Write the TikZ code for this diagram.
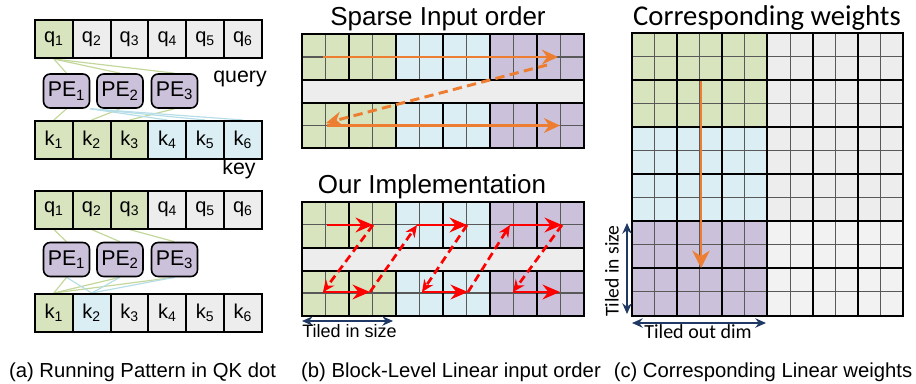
\documentclass[tikz,border=0pt]{standalone}
\usepackage{fontspec}
\setmainfont{Liberation Sans}
\newfontfamily\calfont{Carlito}
\usetikzlibrary{arrows.meta,backgrounds}

\definecolor{cGreen}{RGB}{215,228,189}
\definecolor{cBlue}{RGB}{219,238,244}
\definecolor{cPurple}{RGB}{204,193,218}
\definecolor{cGray}{RGB}{237,237,237}
\definecolor{cGrayL}{RGB}{242,242,242}
\definecolor{cLnGreen}{RGB}{196,215,155}
\definecolor{cLnBlue}{RGB}{183,222,232}
\definecolor{cOrange}{RGB}{237,125,49}
\definecolor{cNavy}{RGB}{31,56,100}

\tikzset{every picture/.style={line width=0.75pt}}
\tikzset{
  tok/.style={draw, line width=1.5pt, minimum width=28.35pt, minimum height=28.5pt, inner sep=0pt, font=\fontsize{15}{15}\selectfont},
  pebox/.style={draw, line width=1.2pt, rounded corners=5pt, fill=cPurple, minimum width=34.5pt, minimum height=25.5pt, inner sep=0pt, font=\fontsize{16}{16}\selectfont},
  thinln/.style={draw=black!65, line width=0.8pt},
  thickln/.style={draw=black, line width=1.5pt},
  orarrow/.style={draw=cOrange, line width=2.2pt, -{Stealth[length=12pt,width=11pt]}},
  rdarrow/.style={draw=red, line width=2.2pt, -{Stealth[length=13pt,width=11pt]}},
  rddash/.style={draw=red, line width=2pt, dash pattern=on 6pt off 3.5pt, -{Stealth[length=9pt,width=8pt]}},
  dimarrow/.style={draw=cNavy, line width=1.5pt, {Stealth[length=8pt,width=7pt]}-{Stealth[length=8pt,width=7pt]}},
  pelink/.style={draw=cLnGreen, line width=0.9pt},
  pelinkb/.style={draw=cLnBlue, line width=0.9pt}
}

\begin{document}
\begin{tikzpicture}[x=0.75pt,y=0.75pt,yscale=-1,xscale=1]
\useasboundingbox (0,0) rectangle (916,383);

% ---- (a) running pattern, upper case
\node [tok, fill=cGreen] (qa1) at (53.9,39) {q\textsubscript{1}};
\node [tok, fill=cGray] (qa2) at (91.7,39) {q\textsubscript{2}};
\node [tok, fill=cGray] (qa3) at (129.5,39) {q\textsubscript{3}};
\node [tok, fill=cGray] (qa4) at (167.3,39) {q\textsubscript{4}};
\node [tok, fill=cGray] (qa5) at (205.1,39) {q\textsubscript{5}};
\node [tok, fill=cGray] (qa6) at (242.9,39) {q\textsubscript{6}};

\node [pebox] (pea1) at (66.5,91) {PE\textsubscript{1}};
\node [pebox] (pea2) at (120,91) {PE\textsubscript{2}};
\node [pebox] (pea3) at (174.5,91) {PE\textsubscript{3}};

\node [tok, fill=cGreen] (ka1) at (53.9,140) {k\textsubscript{1}};
\node [tok, fill=cGreen] (ka2) at (91.7,140) {k\textsubscript{2}};
\node [tok, fill=cGreen] (ka3) at (129.5,140) {k\textsubscript{3}};
\node [tok, fill=cBlue] (ka4) at (167.3,140) {k\textsubscript{4}};
\node [tok, fill=cBlue] (ka5) at (205.1,140) {k\textsubscript{5}};
\node [tok, fill=cBlue] (ka6) at (242.9,140) {k\textsubscript{6}};

% Text Node
\node [anchor=base, font=\fontsize{16}{16}\selectfont] (qry) at (240,82) {query};
% Text Node
\node [anchor=base, font=\fontsize{16}{16}\selectfont] (key) at (239,174) {key};

\begin{scope}[on background layer]
\draw [pelink] (qa1.south) -- (pea1.north);
\draw [pelink] (qa1.south) -- (pea2.north);
\draw [pelink] (qa1.south) -- (pea3.north);
\draw [pelink] (pea1.south) -- (ka1.north);
\draw [pelink] (pea2.south) -- (ka2.north);
\draw [pelink] (pea3.south) -- (ka3.north);
\draw [pelinkb] (pea1.south east) -- (ka4.north);
\draw [pelinkb] (pea1.south east) -- (ka5.north);
\draw [pelinkb] (pea1.south east) -- (ka6.north);
\end{scope}

% ---- (a) running pattern, lower case
\node [tok, fill=cGreen] (qb1) at (53.9,209.5) {q\textsubscript{1}};
\node [tok, fill=cGreen] (qb2) at (91.7,209.5) {q\textsubscript{2}};
\node [tok, fill=cGreen] (qb3) at (129.5,209.5) {q\textsubscript{3}};
\node [tok, fill=cGray] (qb4) at (167.3,209.5) {q\textsubscript{4}};
\node [tok, fill=cGray] (qb5) at (205.1,209.5) {q\textsubscript{5}};
\node [tok, fill=cGray] (qb6) at (242.9,209.5) {q\textsubscript{6}};

\node [pebox] (peb1) at (66.5,259.5) {PE\textsubscript{1}};
\node [pebox] (peb2) at (120,259.5) {PE\textsubscript{2}};
\node [pebox] (peb3) at (174.5,259.5) {PE\textsubscript{3}};

\node [tok, fill=cGreen] (kb1) at (53.9,313) {k\textsubscript{1}};
\node [tok, fill=cBlue] (kb2) at (91.7,313) {k\textsubscript{2}};
\node [tok, fill=cGray] (kb3) at (129.5,313) {k\textsubscript{3}};
\node [tok, fill=cGray] (kb4) at (167.3,313) {k\textsubscript{4}};
\node [tok, fill=cGray] (kb5) at (205.1,313) {k\textsubscript{5}};
\node [tok, fill=cGray] (kb6) at (242.9,313) {k\textsubscript{6}};

\begin{scope}[on background layer]
\draw [pelink] (qb1.south) -- (peb1.north);
\draw [pelink] (qb2.south) -- (peb2.north);
\draw [pelink] (qb3.south) -- (peb3.north);
\draw [pelink] (peb1.south) -- (kb1.north);
\draw [pelink] (peb2.south) -- (kb1.north);
\draw [pelink] (peb3.south) -- (kb1.north);
\draw [pelinkb] (peb1.south) -- (kb2.north);
\draw [pelinkb] (peb2.south) -- (kb2.north);
\draw [pelinkb] (peb3.south) -- (kb2.north);
\end{scope}

% ---- (b) block-level input order, both grids
\foreach \yo in {0,167.5} {
  \foreach \c/\xa in {cGreen/302,cBlue/396,cPurple/490} {
    \fill [\c] (\xa,34+\yo) rectangle ++(94,46);
    \fill [\c] (\xa,103+\yo) rectangle ++(94,45);
  }
  \fill [cGray] (302,80+\yo) rectangle (584,103+\yo);
  \foreach \i in {1,3,...,11} {
    \draw [thinln] ({302+23.5*\i},34+\yo) -- ({302+23.5*\i},80+\yo);
    \draw [thinln] ({302+23.5*\i},103+\yo) -- ({302+23.5*\i},148+\yo);
  }
  \draw [thinln] (302,57+\yo) -- (584,57+\yo);
  \draw [thinln] (302,125.5+\yo) -- (584,125.5+\yo);
  \foreach \i in {2,4,...,10} {
    \draw [thickln] ({302+23.5*\i},34+\yo) -- ({302+23.5*\i},80+\yo);
    \draw [thickln] ({302+23.5*\i},103+\yo) -- ({302+23.5*\i},148+\yo);
  }
  \draw [thickln] (302,80+\yo) -- (584,80+\yo);
  \draw [thickln] (302,103+\yo) -- (584,103+\yo);
  \draw [thickln] (302,34+\yo) rectangle (584,148+\yo);
}

% Text Node
\node [anchor=base, font=\fontsize{19.5}{19.5}\selectfont] (ttlsp) at (438,25) {Sparse Input order};
% Text Node
\node [anchor=base, font=\fontsize{19.5}{19.5}\selectfont] (ttlimp) at (432,193) {Our Implementation};

% sparse order arrows
\coordinate (sa) at (323,57);
\coordinate (sb) at (558,57);
\coordinate (sc) at (547,65);
\coordinate (sd) at (326,123);
\coordinate (se) at (327,125.5);
\coordinate (sf) at (560,125.5);
\draw [orarrow] (sa) -- (sb);
\draw [orarrow, dash pattern=on 7pt off 4pt] (sc) -- (sd);
\draw [orarrow] (se) -- (sf);

% implementation arrows
\coordinate (ta1) at (327,225);   \coordinate (ta2) at (373,225);
\coordinate (tb1) at (417,225);   \coordinate (tb2) at (467,225);
\coordinate (tc1) at (510,225);   \coordinate (tc2) at (562,225);
\coordinate (ba1) at (323,292);   \coordinate (ba2) at (370,292);
\coordinate (bb1) at (422,292);   \coordinate (bb2) at (468,292);
\coordinate (bc1) at (513,292);   \coordinate (bc2) at (560,292);
\draw [rdarrow] (ta1) -- (ta2);
\draw [rdarrow] (tb1) -- (tb2);
\draw [rdarrow] (tc1) -- (tc2);
\draw [rdarrow] (ba1) -- (ba2);
\draw [rdarrow] (bb1) -- (bb2);
\draw [rdarrow] (bc1) -- (bc2);
\draw [rddash] (ta2) -- (ba1);
\draw [rddash] (ba2) -- (tb1);
\draw [rddash] (tb2) -- (bb1);
\draw [rddash] (bb2) -- (tc1);
\draw [rddash] (tc2) -- (bc1);

\coordinate (tsa) at (302,321);
\coordinate (tsb) at (393,321);
\draw [dimarrow] (tsa) -- (tsb);
% Text Node
\node [anchor=base, font=\fontsize{13.5}{13.5}\selectfont] (tilin) at (349.5,337) {Tiled in size};

% ---- (c) corresponding weights
\fill [cGreen] (632,33) rectangle (767.5,127.2);
\fill [cBlue] (632,127.2) rectangle (767.5,221.3);
\fill [cPurple] (632,221.3) rectangle (767.5,315.5);
\fill [cGray] (767.5,33) rectangle (903,221.3);
\fill [cGrayL] (767.5,221.3) rectangle (903,315.5);
\foreach \i in {1,3,...,11} {
  \draw [thinln] ({632+22.58*\i},33) -- ({632+22.58*\i},315.5);
  \draw [thinln] (632,{33+23.54*\i}) -- (903,{33+23.54*\i});
}
\foreach \i in {2,4,...,10} {
  \draw [thickln] ({632+22.58*\i},33) -- ({632+22.58*\i},315.5);
  \draw [thickln] (632,{33+23.54*\i}) -- (903,{33+23.54*\i});
}
\draw [thickln] (632,33) rectangle (903,315.5);

% Text Node
\node [anchor=base, font=\calfont\fontsize{21.5}{21.5}\selectfont] (ttlw) at (767,25) {Corresponding weights};

\coordinate (wa) at (701,81);
\coordinate (wb) at (701,268);
\draw [orarrow, -{Stealth[length=13pt,width=13pt]}] (wa) -- (wb);

\coordinate (tva) at (627,223);
\coordinate (tvb) at (627,314);
\draw [dimarrow] (tva) -- (tvb);
% Text Node
\node [rotate=90, font=\calfont\fontsize{14.7}{14.7}\selectfont] (tilv) at (612,271) {Tiled in size};

\coordinate (toa) at (632,323);
\coordinate (tob) at (766,323);
\draw [dimarrow] (toa) -- (tob);
% Text Node
\node [anchor=base, font=\calfont\fontsize{15}{15}\selectfont] (tilout) at (698,338) {Tiled out dim};

% ---- captions
\node [anchor=base, font=\fontsize{15.2}{15.2}\selectfont] (capa) at (142.5,377) {(a) Running Pattern in QK dot};
\node [anchor=base, font=\fontsize{15.2}{15.2}\selectfont] (capb) at (451,377) {(b) Block-Level Linear input order};
\node [anchor=base, font=\fontsize{15.2}{15.2}\selectfont] (capc) at (763,377) {(c) Corresponding Linear weights};

\end{tikzpicture}
\end{document}
